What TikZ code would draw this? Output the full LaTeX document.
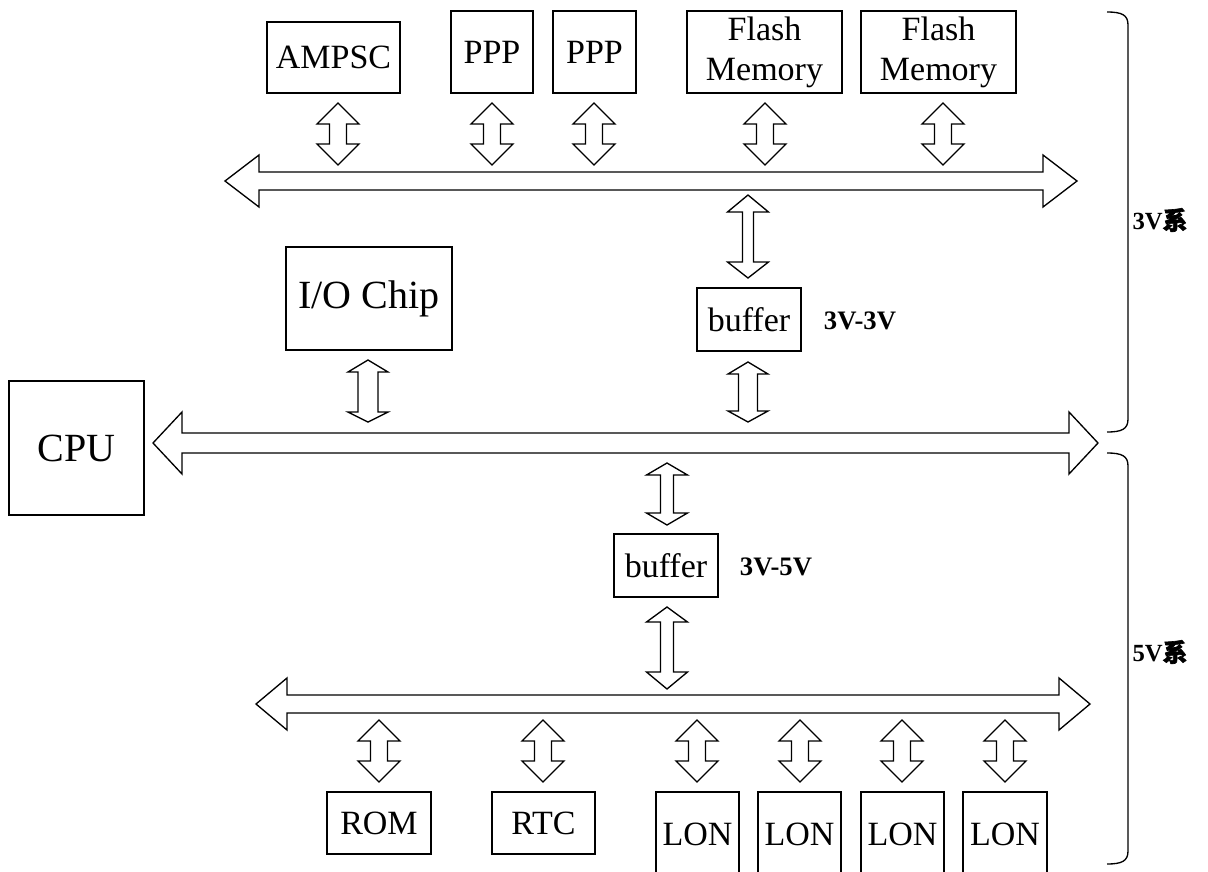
\documentclass[tikz,border=0pt]{standalone}
\usepackage{fontspec}
\setmainfont{Liberation Serif}
\newfontfamily\cjk{Noto Sans CJK SC}[FakeBold=2.5]
\newcommand\bx[6]{\node[box, minimum width={(#4-#2)*0.75pt}, minimum height={(#5-#3)*0.75pt}] (#1) at ({(#2+#4)/2},{(#3+#5)/2}) {#6};}
\newcommand\myV[7]{\draw[bus] (#1,#2) -- ({#1+#4},{#2+#6}) -- ({#1+#5},{#2+#6}) -- ({#1+#5},{#3-#7}) -- ({#1+#4},{#3-#7}) -- (#1,#3) -- ({#1-#4},{#3-#7}) -- ({#1-#5},{#3-#7}) -- ({#1-#5},{#2+#6}) -- ({#1-#4},{#2+#6}) -- cycle;}
\newcommand\myH[6]{\draw[bus] (#2,#1) -- ({#2+#6},{#1-#4}) -- ({#2+#6},{#1-#5}) -- ({#3-#6},{#1-#5}) -- ({#3-#6},{#1-#4}) -- (#3,#1) -- ({#3-#6},{#1+#4}) -- ({#3-#6},{#1+#5}) -- ({#2+#6},{#1+#5}) -- ({#2+#6},{#1+#4}) -- cycle;}
\begin{document}
\begin{tikzpicture}[x=0.75pt,y=-0.75pt,line width=1pt,
  box/.style={draw, inner sep=0pt, align=center, font=\fontsize{25.5}{30}\selectfont},
  bus/.style={draw, fill=white, line join=miter},
  lbl/.style={inner sep=0pt, font=\fontsize{20}{22}\selectfont\bfseries},
  sys/.style={inner sep=0pt, font=\fontsize{18.5}{20}\selectfont\bfseries},
  brace/.style={draw, line width=1pt}]
\useasboundingbox (0,0) rectangle (1208,872);
% top boxes
\bx{ampsc}{267}{22}{400}{93}{AMPSC}
\bx{ppp1}{451}{11}{533}{93}{PPP}
\bx{ppp2}{553}{11}{636}{93}{PPP}
\bx{fl1}{687}{11}{842}{93}{Flash\\Memory}
\bx{fl2}{861}{11}{1016}{93}{Flash\\Memory}
% top bus
\myH{181}{225}{1077}{26}{9}{34}
\myV{338}{103}{165}{21}{8.5}{21}{21}
\myV{492}{103}{165}{21}{8.5}{21}{21}
\myV{594}{103}{165}{21}{8.5}{21}{21}
\myV{765}{103}{165}{21}{8.5}{21}{21}
\myV{943}{103}{165}{21}{8.5}{21}{21}
% middle
\bx{io}{286}{247}{452}{350}{\fontsize{30}{34}\selectfont I/O Chip}
\bx{buf1}{697}{288}{801}{351}{buffer}
\node[lbl] (l33) at (860,321) {3V-3V};
\myV{748}{195}{278}{20.5}{5.5}{17}{16}
\myV{748}{362}{422}{20}{9.5}{12}{11}
\myV{368}{360}{422}{20}{10}{12}{10}
% CPU bus
\bx{cpu}{9}{381}{144}{515}{\fontsize{30}{34}\selectfont CPU}
\myH{443}{153}{1098}{31}{10}{29}
% buffer 2
\myV{667}{463}{525}{20.5}{6.5}{12}{12}
\bx{buf2}{614}{534}{718}{597}{buffer}
\node[lbl] (l35) at (776,567) {3V-5V};
\myV{667}{607}{689}{20.5}{6.5}{15}{17}
% 5V bus
\myH{704}{256}{1090}{26}{9}{31}
\myV{379}{720}{782}{21}{8.5}{21}{21}
\myV{543}{720}{782}{21}{8.5}{21}{21}
\myV{697}{720}{782}{21}{8.5}{21}{21}
\myV{800}{720}{782}{21}{8.5}{21}{21}
\myV{902}{720}{782}{21}{8.5}{21}{21}
\myV{1005}{720}{782}{21}{8.5}{21}{21}
\bx{rom}{327}{792}{431}{854}{ROM}
\bx{rtc}{492}{792}{595}{854}{RTC}
\bx{lon1}{656}{792}{739}{876}{LON}
\bx{lon2}{758}{792}{841}{876}{LON}
\bx{lon3}{861}{792}{944}{876}{LON}
\bx{lon4}{963}{792}{1047}{876}{LON}
% braces
\draw[brace] (1107,12) .. controls (1122,12) and (1128,15) .. (1128,25) -- (1128,419) .. controls (1128,429) and (1122,432) .. (1107,432);
\draw[brace] (1107,453) .. controls (1122,453) and (1128,456) .. (1128,466) -- (1128,851) .. controls (1128,861) and (1122,864) .. (1107,864);
\node[sys] (v3) at (1160,220) {3V{\cjk 系}};
\node[sys] (v5) at (1160,652) {5V{\cjk 系}};
\end{tikzpicture}
\end{document}
